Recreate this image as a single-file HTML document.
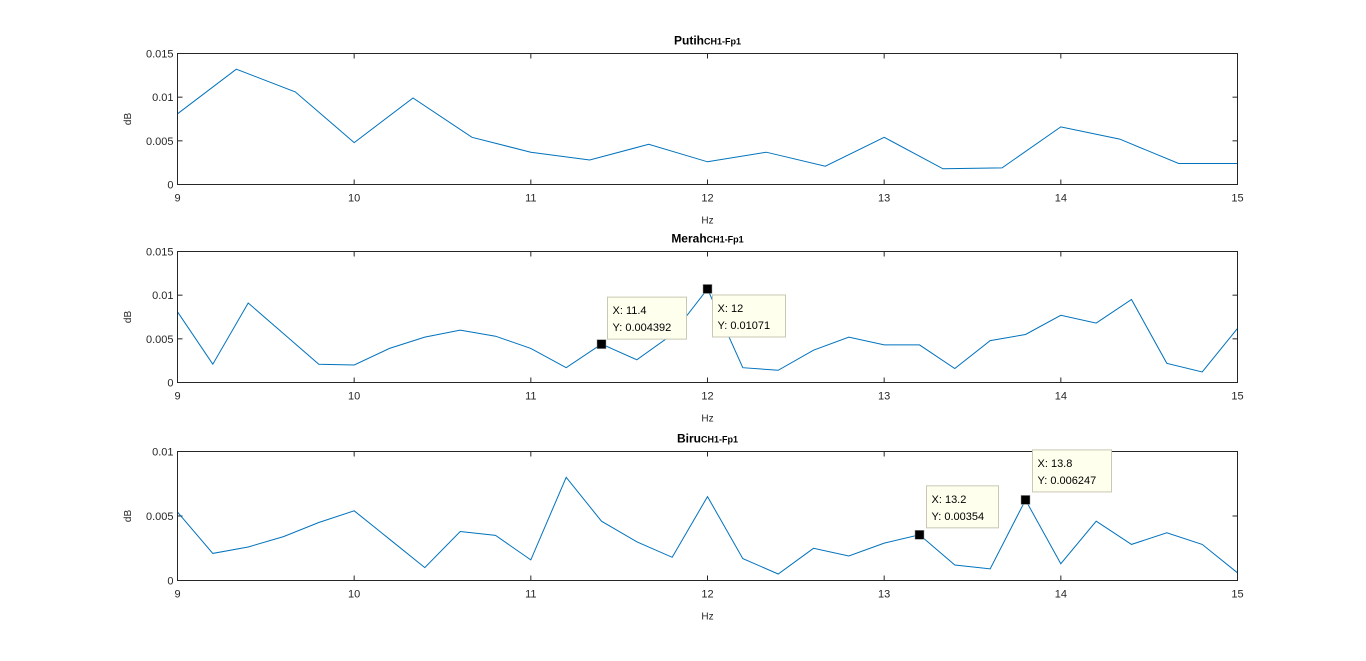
<!DOCTYPE html>
<html><head><meta charset="utf-8"><style>
html,body{margin:0;padding:0;background:#fff;}
svg{display:block;font-family:"Liberation Sans",Arial,sans-serif;}
</style></head><body>
<svg id="fig" width="1366" height="661" viewBox="0 0 1366 661" xmlns="http://www.w3.org/2000/svg"></svg>
<script>
const xTicks = [9,10,11,12,13,14,15];
const xPutih = [9,9.333,9.667,10,10.333,10.667,11,11.333,11.667,12,12.333,12.667,13,13.333,13.667,14,14.333,14.667,15];
const yPutih = [0.0081,0.0132,0.0106,0.0048,0.0099,0.0054,0.0037,0.0028,0.0046,0.0026,0.0037,0.0021,0.0054,0.0018,0.0019,0.0066,0.0052,0.0024,0.0024];
const xStep02 = [9,9.2,9.4,9.6,9.8,10,10.2,10.4,10.6,10.8,11,11.2,11.4,11.6,11.8,12,12.2,12.4,12.6,12.8,13,13.2,13.4,13.6,13.8,14,14.2,14.4,14.6,14.8,15];
const yMerah = [0.0081,0.0021,0.0091,0.0056,0.0021,0.0020,0.0039,0.0052,0.0060,0.0053,0.0039,0.0017,0.004392,0.0026,0.0055,0.01071,0.0017,0.0014,0.0037,0.0052,0.0043,0.0043,0.0016,0.0048,0.0055,0.0077,0.0068,0.0095,0.0022,0.0012,0.0062];
const yBiru = [0.0053,0.0021,0.0026,0.0034,0.0045,0.0054,0.0032,0.0010,0.0038,0.0035,0.0016,0.0080,0.0046,0.0030,0.0018,0.0065,0.0017,0.0005,0.0025,0.0019,0.0029,0.00354,0.0012,0.0009,0.006247,0.0013,0.0046,0.0028,0.0037,0.0028,0.0006];
const yTicks1 = [0,0.005,0.01,0.015];
const yTicks3 = [0,0.005,0.01];
const tipsMerah = [{x:11.4,y:0.004392,lx:"X: 11.4",ly:"Y: 0.004392",dx:6,dy:-47,w:79},{x:12,y:0.01071,lx:"X: 12",ly:"Y: 0.01071",dx:5,dy:6,w:73}];
const tipsBiru = [{x:13.2,y:0.00354,lx:"X: 13.2",ly:"Y: 0.00354",dx:7,dy:-49,w:72},{x:13.8,y:0.006247,lx:"X: 13.8",ly:"Y: 0.006247",dx:7,dy:-50,w:79}];

const NS="http://www.w3.org/2000/svg";
const svg=document.getElementById('fig');
function mk(tag,attrs,parent){const e=document.createElementNS(NS,tag);for(const k in attrs)e.setAttribute(k,attrs[k]);(parent||svg).appendChild(e);return e;}
const L=177.5,R=1237.5;
function panel(name,title,top,bot,ymax,yt,xs,ys,tips){
  const g=mk('g',{});
  
  
  const sx=v=>L+(v-9)/6*(R-L);
  const sy=v=>bot-(v/ymax)*(bot-top);
  // ticks
  xTicks.forEach(t=>{
    const x=sx(t);
    mk('line',{x1:x,y1:bot,x2:x,y2:bot-5,stroke:'#262626','stroke-width':1},g);
    mk('line',{x1:x,y1:top,x2:x,y2:top+5,stroke:'#262626','stroke-width':1},g);
    const tx=mk('text',{x:x,y:bot+17,'font-size':11,fill:'#262626','text-anchor':'middle'},g);
    tx.textContent=t;
    
    
  });
  yt.forEach(t=>{
    const y=sy(t);
    mk('line',{x1:L,y1:y,x2:L+5,y2:y,stroke:'#262626','stroke-width':1},g);
    mk('line',{x1:R,y1:y,x2:R-5,y2:y,stroke:'#262626','stroke-width':1},g);
    const tx=mk('text',{x:L-4,y:y+4,'font-size':11,fill:'#262626','text-anchor':'end'},g);
    tx.textContent=t;
    
    
  });
  // line
  const d=xs.map((v,i)=>(i?'L':'M')+sx(v).toFixed(1)+','+sy(ys[i]).toFixed(1)).join(' ');
  const p=mk('path',{d:d,fill:'none',stroke:'#0072BD','stroke-width':1},g);
  
  
  mk('rect',{x:L,y:top,width:R-L,height:bot-top,fill:'none',stroke:'#262626','stroke-width':1},g);
  // title
  const t=mk('text',{x:(L+R)/2,y:top-9,'font-size':12,'font-weight':'bold',fill:'#000','text-anchor':'middle'},g);
  t.innerHTML=title+'<tspan font-size="9">CH1-Fp1</tspan>';
  
  
  const xl=mk('text',{x:(L+R)/2,y:bot+39,'font-size':10,fill:'#262626','text-anchor':'middle'},g);
  xl.textContent='Hz';
  
  
  const yl=mk('text',{x:0,y:0,'font-size':10,fill:'#262626','text-anchor':'middle',transform:`translate(131,${(top+bot)/2}) rotate(-90)`},g);
  yl.textContent='dB';
  
  
  (tips||[]).forEach(tp=>{
    const px=sx(tp.x),py=sy(tp.y);
    const bx=px+tp.dx,by=py+tp.dy;
    const tg=mk('g',{},g);
    
    
    mk('rect',{x:bx,y:by,width:tp.w,height:42,fill:'#ffffee',stroke:'#c8c8b4','stroke-width':1},tg);
    const a=mk('text',{x:bx+5,y:by+17,'font-size':11,fill:'#000'},tg);a.textContent=tp.lx;
    const b=mk('text',{x:bx+5,y:by+34,'font-size':11,fill:'#000'},tg);b.textContent=tp.ly;
    const m=mk('rect',{x:px-4.5,y:py-4.5,width:9,height:9,fill:'#000',stroke:'#999','stroke-width':0.5},tg);
    
    
  });
}
panel('putih','Putih',53.5,184.5,0.015,yTicks1,xPutih,yPutih,null);
panel('merah','Merah',251.5,382.5,0.015,yTicks1,xStep02,yMerah,tipsMerah);
panel('biru','Biru',451.5,580.5,0.01,yTicks3,xStep02,yBiru,tipsBiru);
</script>
</body></html>
